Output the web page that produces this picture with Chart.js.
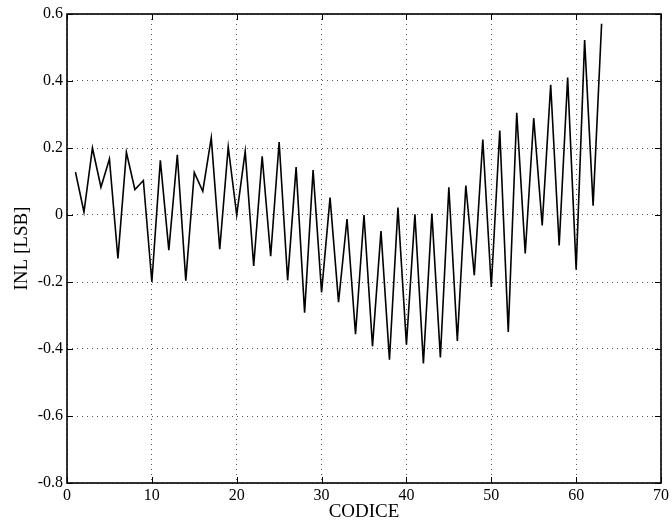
<!DOCTYPE html>
<html>
<head>
<meta charset="utf-8">
<script src="https://cdn.jsdelivr.net/npm/chart.js@4/dist/chart.umd.min.js"></script>
<style>
  html, body { margin: 0; padding: 0; background: #fff; }
  #wrap { width: 672px; height: 524px; }
</style>
</head>
<body>
<div id="wrap"><canvas id="myChart"></canvas></div>
<script>
// codes 1..63 and INL
const codes = [];
for (let c = 1; c <= 63; c++) codes.push(c);

const inl = [
    0.128, 0.009, 0.200, 0.083, 0.167, -0.130, 0.187, 0.076, 0.103, -0.200,
    0.163, -0.105, 0.180, -0.196, 0.127, 0.071, 0.230, -0.102, 0.203, 0.000,
    0.190, -0.152, 0.175, -0.123, 0.218, -0.195, 0.143, -0.292, 0.134, -0.231,
    0.052, -0.260, -0.012, -0.356, 0.000, -0.392, -0.048, -0.432, 0.022, -0.387,
    0.002, -0.443, 0.004, -0.425, 0.083, -0.376, 0.088, -0.180, 0.225, -0.215,
    0.252, -0.349, 0.305, -0.115, 0.289, -0.031, 0.389, -0.091, 0.410, -0.163,
    0.522, 0.028, 0.571
];

const xTicks = [0, 10, 20, 30, 40, 50, 60, 70];
const yTicks = [-0.8, -0.6, -0.4, -0.2, 0, 0.2, 0.4, 0.6];

const fontFamily = "'Liberation Serif', 'DejaVu Serif', serif";

// matlab style frame with inward ticks
const framePlugin = {
    id: "frame",
    afterDraw(chart) {
        const { ctx, chartArea: a, scales } = chart;
        ctx.save();
        ctx.strokeStyle = "#000";
        ctx.lineWidth = 1.6;
        ctx.strokeRect(a.left, a.top, a.right - a.left, a.bottom - a.top);
        ctx.lineWidth = 1;
        ctx.beginPath();
        xTicks.forEach((t) => {
            const px = Math.round(scales.x.getPixelForValue(t)) + 0.5;
            ctx.moveTo(px, a.bottom);
            ctx.lineTo(px, a.bottom - 6);
            ctx.moveTo(px, a.top);
            ctx.lineTo(px, a.top + 6);
        });
        yTicks.forEach((t) => {
            const py = Math.round(scales.y.getPixelForValue(t)) + 0.5;
            ctx.moveTo(a.left, py);
            ctx.lineTo(a.left + 6, py);
            ctx.moveTo(a.right, py);
            ctx.lineTo(a.right - 6, py);
        });
        ctx.stroke();
        ctx.restore();
    },
};

const ctx = document.getElementById("myChart");

new Chart(ctx, {
    type: "line",
    data: {
        labels: codes,
        datasets: [
            {
                data: codes.map((c, i) => ({ x: c, y: inl[i] })),
                borderColor: "#000",
                borderWidth: 1.6,
                pointRadius: 0,
                tension: 0,
                fill: false,
            },
        ],
    },
    options: {
        responsive: true,
        maintainAspectRatio: false,
        animation: false,
        layout: {
            padding: { top: 14, right: 10, left: 0, bottom: 0 },
        },
        scales: {
            x: {
                type: "linear",
                min: 0,
                max: 70,
                afterBuildTicks: (scale) => {
                    scale.ticks = xTicks.map((v) => ({ value: v }));
                },
                afterFit: (scale) => {
                    scale.height = 41;
                },
                grid: {
                    color: "#555",
                    borderDash: [1, 4],
                    drawTicks: false,
                },
                border: { display: false, dash: [1, 4] },
                ticks: {
                    color: "#000",
                    padding: 3,
                    maxRotation: 0,
                    font: { family: fontFamily, size: 16 },
                },
                title: {
                    display: true,
                    text: "CODICE",
                    color: "#000",
                    padding: { top: 0, bottom: 1 },
                    font: { family: fontFamily, size: 19 },
                },
            },
            y: {
                min: -0.8,
                max: 0.6,
                afterBuildTicks: (scale) => {
                    scale.ticks = yTicks.map((v) => ({ value: v }));
                },
                afterFit: (scale) => {
                    scale.width = 67;
                },
                grid: {
                    color: "#555",
                    borderDash: [1, 4],
                    drawTicks: false,
                },
                border: { display: false, dash: [1, 4] },
                ticks: {
                    color: "#000",
                    padding: 4,
                    font: { family: fontFamily, size: 16 },
                    callback: (v) => (Math.abs(v) < 1e-9 ? "0" : String(Math.round(v * 10) / 10)),
                },
                title: {
                    display: true,
                    text: "INL [LSB]",
                    color: "#000",
                    padding: { top: 11, bottom: 0 },
                    font: { family: fontFamily, size: 19 },
                },
            },
        },
        plugins: {
            legend: { display: false },
            tooltip: { enabled: false },
        },
    },
    plugins: [framePlugin],
});
</script>
</body>
</html>
